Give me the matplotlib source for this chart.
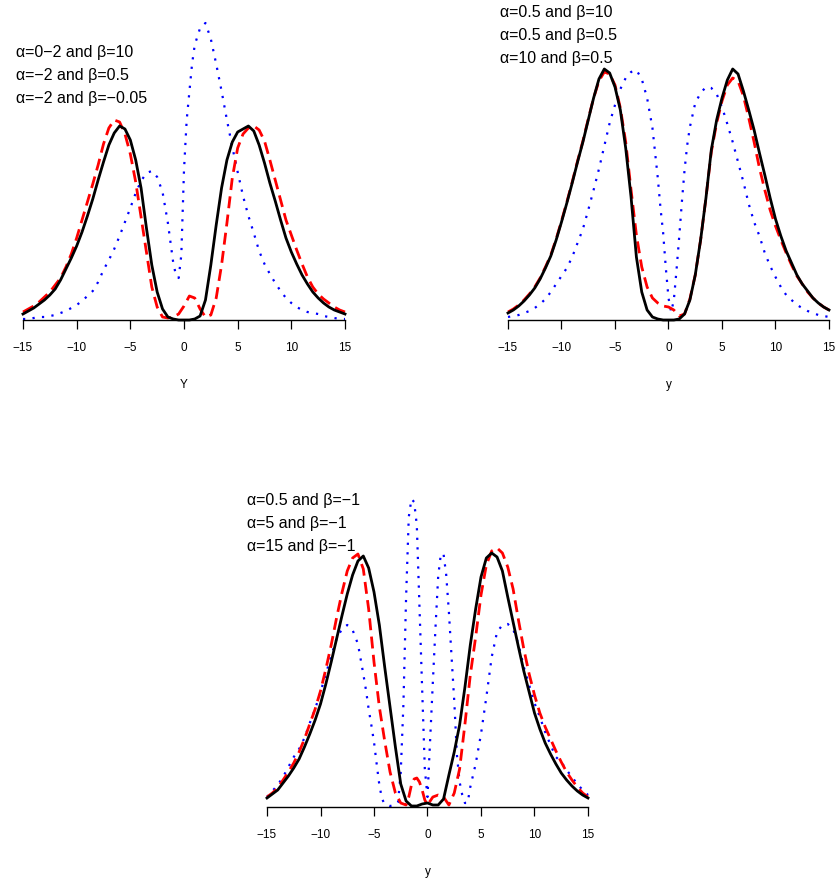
import numpy as np
import matplotlib
matplotlib.use("Agg")
import matplotlib.pyplot as plt

# common sample grid for the smooth curves
grid = np.arange(-15, 15.5, 0.5)

# ---- panel 1 (top left)
p1_black = [.006, .009, .012, .016, .020, .025, .031, .040, .051, .062, .074, .088, .104, .121, .140, .158,
            .175, .187, .194, .191, .180, .160, .132, .092, .055, .028, .011, .003, .001, 0, 0,
            0, .001, .004, .020, .055, .095, .132, .160, .178, .188, .191, .194, .189, .175, .157,
            .137, .119, .100, .082, .068, .056, .045, .036, .028, .022, .017, .013, .010, .008, .006]
p1_red = [.008, .011, .014, .018, .023, .028, .035, .042, .053, .066, .082, .100, .118, .136, .155, .176,
          .192, .200, .198, .186, .166, .138, .103, .068, .033, .013, .003, .002, .003, .006, .014,
          .024, .022, .011, .003, .005, .022, .055, .097, .142, .172, .186, .192, .194, .190, .179,
          .160, .140, .120, .100, .085, .070, .056, .043, .033, .026, .021, .017, .013, .010, .008]
p1_blue_x = [-15, -14.5, -14, -13.5, -13, -12.5, -12, -11.5, -11, -10.5, -10, -9.5, -9, -8.5, -8, -7.5,
             -7, -6.5, -6, -5.5, -5, -4.5, -4, -3.5, -3, -2.5, -2, -1.5, -1, -0.75, -0.5, -0.25, 0,
             0.25, 0.5, 0.75, 1, 1.5, 2, 2.5, 3, 3.5, 4, 4.5, 5, 5.5, 6, 6.5, 7, 7.5, 8, 8.5, 9,
             9.5, 10, 10.5, 11, 11.5, 12, 12.5, 13, 13.5, 14, 14.5, 15]
p1_blue = [.001, .001, .002, .003, .003, .004, .005, .007, .009, .012, .015, .019, .024, .029, .038, .050,
           .060, .071, .084, .098, .112, .127, .139, .147, .149, .143, .128, .097, .057, .045, .042,
           .065, .150, .200, .228, .256, .275, .292, .297, .281, .256, .229, .200, .173, .148, .124,
           .104, .087, .069, .056, .046, .037, .029, .022, .017, .013, .010, .008, .007, .006, .004,
           .003, .002, .001, .001]
p1_labels = ["α=0−2 and β=10", "α=−2 and β=0.5", "α=−2 and β=−0.05"]

# ---- panel 2 (top right)
p2_black = [.007, .010, .014, .019, .025, .032, .041, .052, .064, .080, .098, .117, .137, .158, .178, .200,
            .222, .241, .251, .247, .233, .210, .172, .123, .063, .028, .010, .003, .001, 0, 0,
            0, .001, .006, .020, .045, .080, .122, .170, .200, .222, .240, .251, .246, .229, .210,
            .190, .167, .145, .122, .101, .084, .069, .057, .045, .036, .029, .022, .017, .013, .010]
p2_red = [.008, .011, .015, .020, .026, .033, .042, .053, .065, .081, .099, .118, .138, .159, .179, .201,
          .222, .239, .248, .246, .235, .212, .178, .130, .085, .053, .033, .022, .017, .014, .013,
          .010, .004, .006, .021, .045, .080, .122, .168, .197, .219, .235, .242, .239, .224, .202,
          .178, .152, .130, .110, .094, .080, .067, .055, .044, .036, .028, .022, .017, .013, .010]
p2_blue_x = [-15, -14.5, -14, -13.5, -13, -12.5, -12, -11.5, -11, -10.5, -10, -9.5, -9, -8.5, -8, -7.5,
             -7, -6.5, -6, -5.5, -5, -4.5, -4, -3.5, -3, -2.5, -2, -1.5, -1, -0.75, -0.5, -0.25, 0,
             0.25, 0.5, 0.75, 1, 1.25, 1.5, 1.75, 2, 2.5, 3, 3.5, 4, 4.5, 5, 5.5, 6, 6.5, 7, 7.5, 8,
             8.5, 9, 9.5, 10, 10.5, 11, 11.5, 12, 12.5, 13, 13.5, 14, 14.5, 15]
p2_blue = [.003, .004, .005, .007, .009, .012, .016, .021, .028, .036, .044, .052, .063, .077, .091, .110,
           .130, .151, .174, .197, .215, .231, .242, .248, .250, .241, .222, .192, .142, .112, .087,
           .052, .022, .008, .020, .050, .083, .118, .150, .175, .193, .217, .227, .233, .232, .226,
           .213, .196, .178, .158, .138, .116, .098, .084, .067, .054, .043, .033, .025, .020, .015,
           .012, .009, .007, .005, .004, .003]
p2_labels = ["α=0.5 and β=10", "α=0.5 and β=0.5", "α=10 and β=0.5"]

# ---- panel 3 (bottom)
p3_black = [.009, .013, .017, .024, .031, .039, .048, .060, .073, .087, .103, .123, .145, .168, .191, .213,
            .232, .246, .251, .239, .215, .182, .140, .100, .060, .023, .006, .001, .001, .003, .004,
            .002, .002, .008, .032, .055, .082, .120, .162, .198, .230, .249, .254, .250, .236, .210,
            .185, .160, .136, .115, .094, .078, .064, .053, .043, .034, .027, .021, .016, .012, .009]
p3_red_x = [-15, -14.5, -14, -13.5, -13, -12.5, -12, -11.5, -11, -10.5, -10, -9.5, -9, -8.5, -8, -7.5,
            -7, -6.5, -6, -5.5, -5, -4.5, -4, -3.5, -3, -2.5, -2, -1.75, -1.5, -1.25, -1, -0.75,
            -0.5, -0.25, 0, 0.25, 0.5, 1, 1.5, 2, 2.5, 3, 3.5, 4, 4.5, 5, 5.5, 6, 6.5, 7, 7.5, 8,
            8.5, 9, 9.5, 10, 10.5, 11, 11.5, 12, 12.5, 13, 13.5, 14, 14.5, 15]
p3_red = [.010, .014, .019, .027, .035, .044, .055, .068, .083, .098, .116, .138, .162, .189, .214, .236,
          .249, .253, .238, .198, .145, .100, .066, .035, .014, .004, .002, .010, .022, .028, .029,
          .025, .017, .007, .002, .006, .010, .012, .010, .002, .014, .038, .083, .132, .170, .212,
          .242, .256, .259, .254, .240, .218, .187, .158, .133, .112, .094, .080, .068, .056, .045,
          .035, .027, .020, .014, .010]
p3_blue_x = [-15, -14.5, -14, -13.5, -13, -12.5, -12, -11.5, -11, -10.5, -10, -9.5, -9, -8.5, -8, -7.5,
             -7, -6.5, -6.25, -6, -5.75, -5.5, -5.25, -5, -4.75, -4.5, -4.25, -4, -3.5, -3, -2.75,
             -2.5, -2.25, -2, -1.75, -1.5, -1.25, -1, -0.75, -0.5, -0.25, 0, 0.25, 0.5, 0.75, 1,
             1.25, 1.5, 1.75, 2, 2.25, 2.5, 2.75, 3, 3.25, 3.5, 3.75, 4, 4.5, 5, 5.5, 6, 6.5, 7, 7.5,
             8, 8.5, 9, 9.5, 10, 10.5, 11, 11.5, 12, 12.5, 13, 13.5, 14, 14.5, 15]
p3_blue = [.010, .016, .022, .030, .040, .050, .058, .069, .084, .098, .115, .133, .151, .168, .178, .182,
           .177, .163, .148, .133, .117, .098, .082, .065, .043, .022, .008, .003, .001, .002, .005,
           .035, .103, .210, .290, .308, .305, .282, .200, .118, .038, .010, .068, .125, .180, .231,
           .253, .253, .232, .195, .150, .106, .052, .025, .012, .004, .004, .020, .043, .073, .110,
           .150, .175, .182, .183, .178, .163, .140, .122, .104, .090, .075, .062, .050, .045, .037,
           .030, .023, .017, .012]
p3_labels = ["α=0.5 and β=−1", "α=5 and β=−1", "α=15 and β=−1"]

plt.rcParams['font.family'] = ['Liberation Sans', 'DejaVu Sans']

W, H = 837, 880
fig = plt.figure(figsize=(W / 100, H / 100), dpi=100)


def panel(left, right, top, bottom, xlabel):
    ax = fig.add_axes([left / W, 1 - bottom / H, (right - left) / W, (bottom - top) / H])
    ax.set_xlim(-15, 15)
    ax.set_ylim(0, (bottom - top) / 1000)
    for s in ["top", "right", "left"]:
        ax.spines[s].set_visible(False)
    ax.spines["bottom"].set_linewidth(1.0)
    ax.set_yticks([])
    ax.set_xticks([-15, -10, -5, 0, 5, 10, 15])
    ax.tick_params(axis="x", length=6.5, width=0.9, pad=9, labelsize=8.5)
    ax.set_xlabel(xlabel, fontsize=8.5, labelpad=18)
    ax.patch.set_alpha(0)
    return ax


def curves(ax, xb, yb, xr, yr, xu, yu):
    ax.plot(xu, yu, color="blue", lw=1.6, dashes=(1.0, 3.3), clip_on=False)
    ax.plot(xr, yr, color="red", lw=2, dashes=(4.3, 2.3), clip_on=False,
            dash_joinstyle="round")
    ax.plot(xb, yb, color="black", lw=2, clip_on=False, solid_joinstyle="round")


def legend_text(x, ys, labels):
    for y, lab in zip(ys, labels):
        fig.text(x / W, 1 - y / H, lab, fontsize=11.5, va="center", ha="left")


ax1 = panel(23, 345, 10, 320, "Y")
curves(ax1, grid, p1_black, grid, p1_red, p1_blue_x, p1_blue)
legend_text(16, [53, 75.5, 98], p1_labels)

ax2 = panel(508, 829, 10, 320, "y")
curves(ax2, grid, p2_black, grid, p2_red, p2_blue_x, p2_blue)
legend_text(500, [13, 35.5, 58], p2_labels)

ax3 = panel(267, 588, 490, 807, "y")
curves(ax3, grid, p3_black, p3_red_x, p3_red, p3_blue_x, p3_blue)
legend_text(247, [500, 523.5, 546.5], p3_labels)

fig.savefig("out.png", dpi=100)
